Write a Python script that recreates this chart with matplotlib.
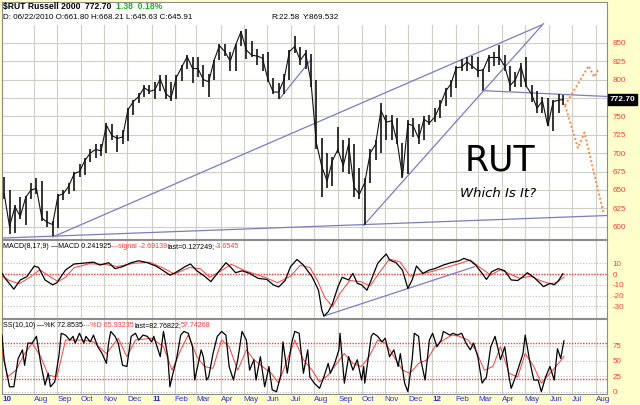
import matplotlib
matplotlib.use("Agg")
import matplotlib.pyplot as plt
import matplotlib.transforms as mtransforms
from matplotlib.patches import Rectangle
import pandas as pd

plt.rcParams["font.family"] = ["Liberation Sans", "DejaVu Sans"]
plt.rcParams["axes.unicode_minus"] = False

BG = "#FFFFCC"
GRID = "#CFCFC8"
RED = "#FF3B3B"
BLUE = "#2B2BE8"
TREND = "#7C7CC0"
ORANGE = "#FF8A3D"
GREEN = "#1DB01D"

# trading sessions (x axis runs in session numbers)
session = pd.bdate_range("2010-06-21", "2012-08-31")

# weekly RUT bars (week ending date)
week_end = list(pd.date_range("2010-06-25", "2012-06-15", freq="W-FRI")) + [pd.Timestamp("2012-06-21")]
wk_high = [668, 650, 630, 640, 642, 660, 666, 662, 622, 608, 644, 650, 660, 675, 685, 694, 706, 712, 712, 741,
           740, 725, 732, 762, 772, 782, 792, 793,
           797, 806, 806, 796, 806, 820, 833, 831, 830, 820, 808, 827, 848, 848, 838, 848, 866, 869, 853, 842,
           835, 838, 802, 795, 808, 840, 859, 844, 840, 835, 800, 720, 700, 695, 735, 718, 720, 712, 680, 666,
           705, 718, 768, 752, 752, 748, 714, 745, 748, 740, 750, 752,
           762, 772, 788, 800, 818, 828, 830, 832, 830, 815, 833, 838, 847, 834, 818, 810, 822, 830, 792, 785,
           776, 775, 772, 780, 779]
wk_low = [638, 590, 592, 610, 603, 638, 645, 608, 600, 588, 598, 636, 644, 648, 668, 670, 688, 693, 696, 700,
          718, 702, 712, 716, 752, 768, 776, 780,
          774, 784, 774, 771, 774, 798, 815, 795, 803, 790, 776, 800, 826, 832, 812, 812, 845, 828, 830, 820,
          812, 796, 780, 774, 780, 800, 836, 820, 815, 790, 705, 640, 652, 655, 700, 675, 672, 640, 638, 602,
          660, 690, 700, 718, 718, 712, 666, 672, 722, 712, 718, 738,
          742, 748, 764, 776, 788, 812, 812, 814, 804, 786, 810, 818, 820, 812, 785, 790, 790, 790, 770, 755,
          755, 737, 730, 755, 766]
wk_close = [645, 600, 627, 614, 640, 650, 652, 612, 606, 603, 642, 645, 655, 672, 675, 690, 700, 705, 703, 738,
            724, 720, 722, 759, 770, 777, 789, 784,
            786, 801, 781, 775, 803, 817, 831, 815, 815, 800, 797, 826, 846, 838, 825, 847, 865, 840, 833, 832,
            829, 800, 783, 783, 800, 838, 845, 826, 836, 797, 714, 682, 662, 690, 705, 683, 712, 654, 644, 660,
            700, 712, 758, 742, 744, 716, 668, 740, 737, 720, 746, 741,
            749, 765, 784, 794, 816, 817, 824, 818, 812, 813, 830, 830, 830, 818, 792, 800, 818, 791, 780, 761,
            771, 737, 770, 772, 772.7]

# trend lines on the price panel: (date, price) -> (date, price)
trend_lines = [
    (("2010-06-21", 584.6), ("2012-08-15", 615.2)),
    (("2010-08-25", 586.0), ("2012-05-22", 874.0)),
    (("2011-06-16", 774.0), ("2011-07-27", 827.0)),
    (("2011-10-04", 602.0), ("2012-05-24", 876.0)),
    (("2012-03-06", 785.0), ("2012-08-15", 777.0)),
]
proj_up_dates = ["2012-06-21", "2012-07-23", "2012-07-30", "2012-08-03"]
proj_up_price = [765, 818.6, 803.5, 813.4]
proj_dn_dates = ["2012-06-21", "2012-07-09", "2012-07-17", "2012-08-10"]
proj_dn_price = [765, 707, 728, 617]

# MACD(8,17,9), session number -> value
macd_x = [0, 3, 11, 17, 23, 30, 34, 40, 47, 51, 59, 67, 74, 85, 91, 99, 105, 112, 120, 127,
          135, 143, 150, 156, 161, 170, 175, 181, 188, 194, 200, 208, 212, 217, 223, 230, 238, 246, 252, 257,
          263, 268, 274, 280, 288, 294, 297, 299, 303, 307, 312, 316, 322, 326, 330, 334, 339, 343, 349, 353,
          357, 360, 366, 372, 377, 381, 385, 391, 397, 402, 410, 417, 425, 429, 435, 440, 446, 450, 455, 461,
          467, 473, 479, 484, 488, 494, 500, 503, 509, 513, 517, 521]
macd_v = [0.6, -4, -14, -5.5, -2.5, 7.4, 6, -5.5, -10, -8, 3.7, 9.3, 9.9, 11, 8.3, 10.5, 5, 6.8, 10.5, 12.3,
          10.5, 7.4, 3, -1, 1.2, 6.8, 9.3, 3, -1.9, -7, 0.6, 10.5, 6.8, 1.2, 3, 0.6, -4, -5, -10, -12,
          -6, 6.8, 13.5, 8.3, -2.5, -15, -33, -39, -35, -27.5, -12, -3, -5.5, 0.6, -8.6, -10, -15, -5.5, 9.9, 14.5,
          18.5, 13, 10.5, 3.7, -13.3, -5.5, 7.4, 0.6, 3.7, 5, 8.3, 10.5, 12.3, 14.5, 12.3, 8.3, 0.6, -5, 2.2, 5,
          3, -5.5, -6, -2.5, 1.2, -3, -8.6, -11.7, -8.6, -10, -6, 0.24]
sig_x = [0, 7, 16, 26, 35, 44, 52, 59, 67, 81, 95, 107, 123, 137, 151, 160, 174, 184, 193, 202,
         213, 226, 235, 244, 256, 268, 277, 286, 293, 300, 307, 314, 323, 333, 342, 351, 360, 370, 379, 388,
         398, 412, 426, 435, 444, 454, 463, 472, 481, 491, 500, 509, 515, 522]
sig_v = [-2, -6, -9, -3, 4, -2, -7, -3, 6, 9.5, 9, 7, 10, 11, 5, 0, 6, 5, -3, 2,
         9, 3, 0, -3, -8, -2, 8, 6, -6, -22, -30, -18, -6, -7, -11, 2, 14, 11, -2, 0,
         2, 6, 10, 13, 6, -1, 4, 0, -4, -2, -6, -9, -8, -2.7]
macd_trend = ((299, -38.9), (439, 6.8))

# Slow stochastic (10,10)
k_x = [0, 2, 7, 11, 15, 19, 21, 24, 28, 32, 36, 40, 43, 45, 49, 53, 55, 59, 63, 66,
       68, 72, 76, 78, 82, 85, 89, 93, 97, 99, 101, 105, 108, 112, 116, 120, 124, 127, 131, 135,
       139, 141, 145, 147, 150, 154, 156, 158, 162, 166, 169, 173, 177, 179, 183, 185, 187, 190, 192, 196,
       200, 204, 208, 211, 215, 219, 223, 227, 230, 234, 236, 240, 244, 248, 251, 255, 259, 261, 265, 269,
       272, 276, 280, 284, 286, 290, 295, 299, 303, 305, 309, 313, 314, 318, 322, 326, 330, 334, 336, 337,
       343, 345, 349, 353, 356, 360, 364, 368, 370, 374, 377, 381, 383, 387, 389, 393, 397, 400, 404, 408,
       410, 416, 419, 423, 427, 431, 435, 438, 442, 446, 450, 454, 458, 461, 463, 467, 471, 473, 477, 481,
       484, 486, 490, 494, 498, 501, 505, 509, 513, 516, 519, 522]
k_v = [92, 51, 8, 8, 54, 68, 43, 79, 79, 90, 46, 11, 30, 8, 16, 60, 95, 92, 84, 90,
       79, 95, 79, 90, 81, 92, 73, 62, 46, 79, 98, 90, 79, 43, 41, 90, 95, 84, 92, 90,
       81, 90, 68, 57, 98, 57, 8, 24, 52, 92, 98, 95, 73, 19, 52, 68, 57, 19, 24, 62,
       90, 98, 92, 41, 19, 52, 98, 84, 35, 52, 19, 57, 8, 41, 3, 0, 27, 81, 30, 79,
       98, 95, 30, 68, 24, 14, 5.5, 24, 46, 30, 46, 68, 95, 14, 57, 35, 52, 19, 41, 14,
       90, 95, 90, 81, 87, 57, 68, 41, 62, 14, 0, 52, 95, 90, 52, 19, 84, 95, 73, 84,
       98, 92, 95, 92, 95, 79, 68, 79, 57, 14, 24, 73, 90, 68, 52, 73, 24, 5.5, 24, 46,
       62, 92, 52, 19, 19, 0, 24, 41, 19, 70, 54, 82.8]
d_x = [0, 5, 13, 21, 28, 36, 43, 51, 59, 74, 85, 97, 108, 116, 124, 139, 150, 158, 166, 173,
       181, 188, 196, 204, 211, 219, 227, 234, 242, 250, 257, 265, 272, 280, 288, 295, 303, 311, 318, 326,
       334, 341, 349, 356, 364, 372, 379, 387, 395, 402, 410, 418, 425, 433, 440, 448, 456, 463, 471, 479,
       486, 494, 501, 509, 517, 522]
d_v = [68, 24, 35, 62, 79, 57, 27, 24, 84, 84, 81, 62, 87, 57, 84, 87, 73, 35, 68, 92,
       57, 41, 38, 84, 73, 35, 68, 52, 41, 30, 14, 52, 84, 52, 35, 16, 27, 46, 62, 46,
       41, 57, 84, 79, 57, 35, 30, 46, 52, 73, 84, 92, 90, 84, 68, 35, 41, 73, 30, 24,
       62, 41, 14, 30, 46, 57.7]

# month axis
month_starts = pd.date_range("2010-08-01", "2012-08-01", freq="MS")
month_labels = [d.strftime("%y") if d.month == 1 else d.strftime("%b") for d in month_starts]
price_ticks = list(range(600, 851, 25))


def xpos(dates):
    return session.searchsorted(pd.to_datetime(dates))


fig = plt.figure(figsize=(6.4, 4.05), dpi=100, facecolor=BG)


def rect(x0, y0, x1, y1):
    return [x0 / 640, 1 - y1 / 405, (x1 - x0) / 640, (y1 - y0) / 405]


ax = fig.add_axes(rect(2, 2, 607, 239))
ax_m = fig.add_axes(rect(2, 240, 607, 318), sharex=ax)
ax_s = fig.add_axes(rect(2, 319, 607, 394), sharex=ax)

mpos = list(xpos(month_starts) - 0.5)
xmin, xmax = 0, xpos(["2012-08-15"])[0]

for a in (ax, ax_m, ax_s):
    a.set_facecolor("white")
    a.set_axisbelow(True)
    a.grid(True, axis="x", color=GRID, lw=0.8)
    a.yaxis.tick_right()
    a.tick_params(axis="y", length=0, pad=4, labelsize=5.8, labelcolor=RED)
    a.tick_params(axis="x", length=0)
    for s in a.spines.values():
        s.set_color("#8C8C8C")
        s.set_linewidth(0.8)

ax.set_xlim(xmin, xmax)
ax_s.set_xticks([xmin] + mpos, ["10"] + month_labels)
ax.tick_params(labelbottom=False)
ax_m.tick_params(labelbottom=False)
ax_s.tick_params(axis="x", labelsize=5.8, labelcolor=BLUE, pad=1.5)
for lbl in ax_s.get_xticklabels():
    lbl.set_ha("left")
    if lbl.get_text().isdigit():
        lbl.set_fontweight("bold")

# ---- price panel ----
last = wk_close[-1]
ax.set_ylim(583.3, 905.4)
# the last-price box covers the label nearest to it, as in the original
ax.set_yticks(price_ticks, ["" if abs(t - last) < 10 else str(t) for t in price_ticks])
ax.grid(True, axis="y", color=GRID, lw=0.8)
ax.add_patch(Rectangle((0, 0.903), 1, 0.097, transform=ax.transAxes, fc="white", ec="none", zorder=1))

bar_x = xpos(week_end) - 2
ax.vlines(bar_x, wk_low, wk_high, color="#111111", lw=1.2, zorder=3)
ax.plot(bar_x, wk_close, color="#111111", lw=0.8, zorder=3)

for (d0, p0), (d1, p1) in trend_lines:
    ax.plot(xpos([d0, d1]), [p0, p1], color=TREND, lw=0.9, zorder=2)
ax.plot(xpos(proj_up_dates), proj_up_price, color=ORANGE, lw=1.4, ls=(0, (1, 1.2)), zorder=4)
ax.plot(xpos(proj_dn_dates), proj_dn_price, color=ORANGE, lw=1.4, ls=(0, (1, 1.2)), zorder=4)

ax.text(0.823, 0.330, "RUT", transform=ax.transAxes, fontsize=25, ha="center", va="center",
        family="DejaVu Sans", zorder=5)
ax.text(0.820, 0.194, "Which Is It?", transform=ax.transAxes, fontsize=9.5, ha="center", va="center",
        family="DejaVu Sans", style="italic", zorder=5)

trans = mtransforms.blended_transform_factory(ax.transAxes, ax.transData)
ax.text(1.004, last, f"{last:.2f}", transform=trans, fontsize=6, fontweight="bold",
        color="white", va="center", ha="left",
        bbox=dict(fc="black", ec="black", pad=1.3), zorder=6)

# ---- MACD panel ----
ax_m.set_ylim(-40.7, 31.5)
ax_m.set_yticks([-30, -20, -10, 0, 10])
ax_m.grid(True, axis="y", color="#BDBDB5", lw=0.8, ls=(0, (1, 1.5)))
ax_m.axhline(0, color=RED, lw=1.0, ls=(0, (1, 1)), zorder=2)
ax_m.plot(sig_x, sig_v, color=RED, lw=0.7, zorder=3)
ax_m.plot(macd_x, macd_v, color="black", lw=0.9, zorder=4)
ax_m.plot([macd_trend[0][0], macd_trend[1][0]], [macd_trend[0][1], macd_trend[1][1]],
          color=TREND, lw=0.9, zorder=3)

# ---- slow stochastic panel ----
ax_s.set_ylim(-3.7, 118.2)
ax_s.set_yticks([0, 25, 50, 75])
ax_s.grid(True, axis="y", color="#BDBDB5", lw=0.8, ls=(0, (1, 1.5)))
for lvl in (20, 80):
    ax_s.axhline(lvl, color=RED, lw=1.0, ls=(0, (1, 1)), zorder=2)
ax_s.plot(d_x, d_v, color=RED, lw=0.7, zorder=3)
ax_s.plot(k_x, k_v, color="black", lw=0.9, zorder=4)

# ---- texts ----
renderer = fig.canvas.get_renderer()


def seq_text(x, y, parts, size=5.8):
    for s, c, w in parts:
        t = fig.text(x / 640, 1 - y / 405, s, color=c, fontweight=w, fontsize=size,
                     va="center", ha="left", zorder=10)
        x += t.get_window_extent(renderer=renderer).width


seq_text(3, 6.5, [("$RUT Russell 2000  ", "black", "bold"), ("772.70  ", "black", "bold"),
                  ("1.38  0.18%", GREEN, "bold")], size=6.2)
seq_text(3, 17.5, [("D: 06/22/2010 O:661.80 H:668.21 L:645.63 C:645.91", "black", "normal")])
seq_text(271, 17.5, [("R:22.58", "black", "normal")])
seq_text(303, 17.5, [("Y:869.532", "black", "normal")])
seq_text(3, 246.5, [("MACD(8,17,9) ", "black", "normal"), ("\u2014MACD 0.241925", "black", "normal"),
                    ("---signal -2.69139", RED, "normal"), ("last=0.127249;", "black", "normal"),
                    ("-3.6545", RED, "normal")], size=5.1)
seq_text(3, 325.5, [("SS(10,10) ", "black", "normal"), ("\u2014%K 72.8535", "black", "normal"),
                    ("---%D 65.93235", RED, "normal"), ("last=82.76822;", "black", "normal"),
                    ("57.74268", RED, "normal")], size=5.1)

fig.savefig("out.png", dpi=100, facecolor=BG)
